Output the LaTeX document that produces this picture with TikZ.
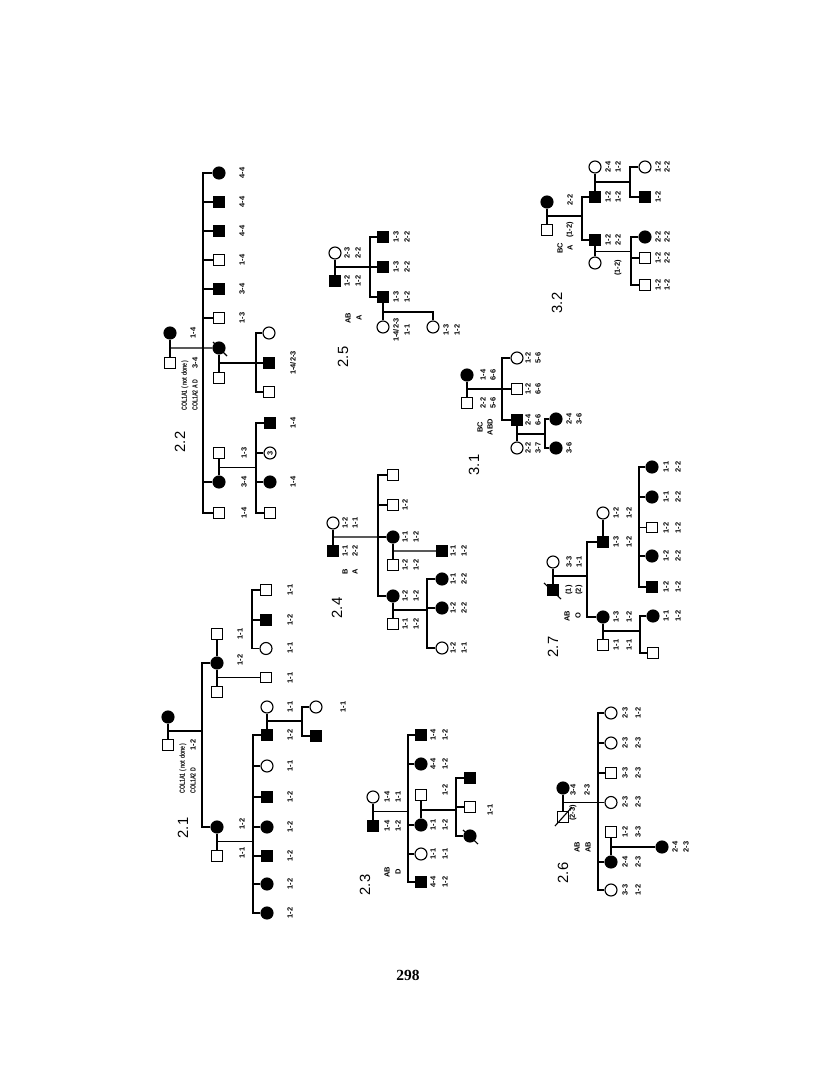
\documentclass[tikz,border=0pt]{standalone}
\usepackage{fontspec}
\setmainfont{Liberation Serif}
\setsansfont{Liberation Sans}
\usepackage{tikz}
\usetikzlibrary{calc}

\begin{document}
\begin{tikzpicture}[x=0.025cm, y=-0.025cm, line width=0.8pt,
    sq/.style={draw, fill=white, minimum size=0.27cm, inner sep=0},
    fsq/.style={sq, fill=black},
    ci/.style={draw, fill=white, circle, minimum size=0.3cm, inner sep=0},
    fci/.style={ci, fill=black},
    lab/.style={rotate=90, font=\fontsize{5.3}{6}\selectfont\sffamily\bfseries, inner sep=0.5pt},
    famno/.style={rotate=90, font=\fontsize{10.5}{12}\selectfont\sffamily}]
  \fill[white] (0,0) rectangle (816,1081);

  % ---- 2.2
  \node[fci] (gm22) at (170,333) {};
  \node[sq] (gf22) at (170,363) {};
  \draw (gm22) -- (gf22);
  \coordinate (c22) at ($(gm22)!0.5!(gf22)$);
  \coordinate (s22) at (203,348);
  \node[fci] (k22a) at (219,173) {};
  \node[fsq] (k22b) at (219,202) {};
  \node[fsq] (k22c) at (219,231) {};
  \node[sq] (k22d) at (219,260) {};
  \node[fsq] (k22e) at (219,289) {};
  \node[sq] (k22f) at (219,318) {};
  \node[fci] (k22g) at (219,348) {};
  \node[fci] (k22h) at (219,482) {};
  \node[sq] (k22i) at (219,513) {};
  \foreach \k in {k22a,k22b,k22c,k22d,k22e,k22f,k22h,k22i} \draw (\k) -| (s22);
  \draw (c22) -- (k22g);
  \node[sq] (h22g) at (219,378) {};
  \draw (k22g) -- (h22g);
  \draw ([shift={(-6,-6)}]k22g.center) -- ([shift={(8,8)}]k22g.center);
  \coordinate (c22g) at ($(k22g)!0.5!(h22g)$);
  \coordinate (s22g) at ($(c22g)+(37,0)$);
  \node[ci] (g22a) at (269,333) {};
  \node[fsq] (g22b) at (269,363) {};
  \node[sq] (g22c) at (269,392) {};
  \foreach \k in {g22a,g22b,g22c} \draw (\k) -| (s22g);
  \draw (c22g) -- (s22g);
  \node[sq] (h22h) at (219,453) {};
  \draw (h22h) -- (k22h);
  \coordinate (c22h) at ($(h22h)!0.5!(k22h)$);
  \coordinate (s22h) at ($(c22h)+(37,0)$);
  \node[fsq] (g22d) at (270,423) {};
  \node[ci, font=\fontsize{5.3}{6}\selectfont\sffamily\bfseries] (g22e) at (270,453) {\rotatebox{90}{3}};
  \node[fci] (g22f) at (270,482) {};
  \node[sq] (g22g) at (270,513) {};
  \foreach \k in {g22d,g22e,g22f,g22g} \draw (\k) -| (s22h);
  \draw (c22h) -- (s22h);
  \foreach \x/\y/\t [count=\i] in {193/333/1-4, 195/363/3-4, 242/173/4-4, 242/202/4-4, 242/231/4-4,
      242/260/1-4, 242/289/3-4, 242/318/1-3, 244/453/1-3, 244/482/3-4, 244/513/1-4,
      293/423/1-4, 293/482/1-4}
    \node[lab] (l22-\i) at (\x,\y) {\t};
  \node[lab] (l22x) at (293,363) {1-4/2-3};
  \node[lab, anchor=west] (col22a) at (185,412) {\scalebox{0.7}[1]{COL1A1 ( not done )}};
  \node[lab, anchor=west] (col22b) at (195,412) {\scalebox{0.7}[1]{COL1A2 A D}};
  \node[famno] (n22) at (180,442) {2.2};

  % ---- 2.5
  \node[ci] (gm25) at (335,253) {};
  \node[fsq] (gf25) at (335,281) {};
  \draw (gm25) -- (gf25);
  \coordinate (c25) at ($(gm25)!0.5!(gf25)$);
  \coordinate (s25) at ($(c25)+(35,0)$);
  \node[fsq] (k25a) at (383,237) {};
  \node[fsq] (k25b) at (383,267) {};
  \node[fsq] (k25c) at (383,297) {};
  \foreach \k in {k25a,k25b,k25c} \draw (\k) -| (s25);
  \draw (c25) -- (s25);
  \node[ci] (h25c) at (383,327) {};
  \draw (k25c) -- (h25c);
  \coordinate (c25c) at ($(k25c)!0.5!(h25c)$);
  \node[ci] (g25a) at (433,327) {};
  \draw (c25c) -| (g25a);
  \foreach \x/\y/\t [count=\i] in {347/253/2-3, 358/253/2-2, 347/281/1-2, 358/281/1-2,
      348/318/AB, 359/318/A, 396/237/1-3, 407/237/2-2, 396/267/1-3, 407/267/2-2,
      396/297/1-3, 407/297/1-2, 407/330/1-1, 446/330/1-3, 457/330/1-2}
    \node[lab] (l25-\i) at (\x,\y) {\t};
  \node[lab] (l25x) at (396,330) {1-4/2-3};
  \node[famno] (n25) at (343,357) {2.5};

  % ---- 3.1
  \node[fci] (gm31) at (467,375) {};
  \node[sq] (gf31) at (467,403) {};
  \draw (gm31) -- (gf31);
  \coordinate (c31) at ($(gm31)!0.5!(gf31)$);
  \coordinate (s31) at ($(c31)+(35,0)$);
  \node[ci] (k31a) at (517,358) {};
  \node[sq] (k31b) at (517,389) {};
  \node[fsq] (k31c) at (517,420) {};
  \foreach \k in {k31a,k31b,k31c} \draw (\k) -| (s31);
  \draw (c31) -- (s31);
  \node[ci] (h31c) at (517,448) {};
  \draw (k31c) -- (h31c);
  \coordinate (c31c) at ($(k31c)!0.5!(h31c)$);
  \coordinate (s31c) at ($(c31c)+(28,0)$);
  \node[fci] (g31a) at (556,419) {};
  \node[fci] (g31b) at (556,448) {};
  \foreach \k in {g31a,g31b} \draw (\k) -| (s31c);
  \draw (c31c) -- (s31c);
  \foreach \x/\y/\t [count=\i] in {483/375/1-4, 493/375/6-6, 483/403/2-2, 493/403/5-6,
      528/358/1-2, 538/358/5-6, 528/389/1-2, 538/389/6-6, 528/420/2-4, 538/420/6-6,
      528/448/2-2, 538/448/3-7, 569/419/2-4, 579/419/3-6, 569/448/3-6, 480/427/BC, 490/427/ABD}
    \node[lab] (l31-\i) at (\x,\y) {\t};
  \node[famno] (n31) at (474,465) {3.1};

  % ---- 3.2
  \node[fci] (gm32) at (547,202) {};
  \node[sq] (gf32) at (547,230) {};
  \draw (gm32) -- (gf32);
  \coordinate (c32) at ($(gm32)!0.5!(gf32)$);
  \coordinate (s32) at ($(c32)+(35,0)$);
  \node[fsq] (k32a) at (595,197) {};
  \node[fsq] (k32b) at (595,240) {};
  \foreach \k in {k32a,k32b} \draw (\k) -| (s32);
  \draw (c32) -- (s32);
  \node[ci] (h32a) at (595,167) {};
  \draw (h32a) -- (k32a);
  \coordinate (c32a) at ($(h32a)!0.5!(k32a)$);
  \coordinate (s32a) at ($(c32a)+(35,0)$);
  \node[ci] (g32a) at (645,167) {};
  \node[fsq] (g32b) at (645,197) {};
  \foreach \k in {g32a,g32b} \draw (\k) -| (s32a);
  \draw (c32a) -- (s32a);
  \node[ci] (h32b) at (595,263) {};
  \draw (k32b) -- (h32b);
  \coordinate (c32b) at ($(k32b)!0.5!(h32b)$);
  \coordinate (s32b) at ($(c32b)+(36,0)$);
  \node[fci] (g32c) at (645,237) {};
  \node[sq] (g32d) at (645,258) {};
  \node[sq] (g32e) at (645,285) {};
  \foreach \k in {g32c,g32d,g32e} \draw (\k) -| (s32b);
  \draw (c32b) -- (s32b);
  \foreach \x/\y/\t [count=\i] in {570/200/2-2, 570/230/(1-2), 608/167/2-4, 618/167/1-2,
      608/197/1-2, 618/197/1-2, 658/167/1-2, 667/167/2-2, 658/197/1-2, 608/240/1-2,
      618/240/2-2, 658/237/2-2, 667/237/2-2, 658/258/1-2, 667/258/2-2, 658/285/1-2,
      667/285/1-2, 618/268/(1-2), 560/248/BC, 570/248/A}
    \node[lab] (l32-\i) at (\x,\y) {\t};
  \node[famno] (n32) at (557,303) {3.2};

  % ---- 2.4
  \node[ci] (gm24) at (333,523) {};
  \node[fsq] (gf24) at (333,551) {};
  \draw (gm24) -- (gf24);
  \coordinate (c24) at ($(gm24)!0.5!(gf24)$);
  \coordinate (s24) at ($(c24)+(45,0)$);
  \node[sq] (k24a) at (393,475) {};
  \node[sq] (k24b) at (393,505) {};
  \node[fci] (k24c) at (393,537) {};
  \node[fci] (k24d) at (393,596) {};
  \foreach \k in {k24a,k24b,k24c,k24d} \draw (\k) -| (s24);
  \draw (c24) -- (k24c);
  \node[sq] (h24c) at (393,565) {};
  \draw (k24c) -- (h24c);
  \coordinate (c24c) at ($(k24c)!0.5!(h24c)$);
  \node[fsq] (g24a) at (442,551) {};
  \draw (c24c) -- (g24a);
  \node[sq] (h24d) at (393,624) {};
  \draw (k24d) -- (h24d);
  \coordinate (c24d) at ($(k24d)!0.5!(h24d)$);
  \coordinate (s24d) at ($(c24d)+(34,0)$);
  \node[fci] (g24b) at (442,579) {};
  \node[fci] (g24c) at (442,608) {};
  \node[ci] (g24d) at (442,648) {};
  \foreach \k in {g24b,g24c,g24d} \draw (\k) -| (s24d);
  \draw (c24d) -- (s24d);
  \foreach \x/\y/\t [count=\i] in {345/523/1-2, 355/523/1-1, 345/551/1-1, 355/551/2-2,
      345/572/B, 355/572/A, 405/505/1-2, 405/537/1-1, 416/537/1-2, 405/565/1-2, 416/565/1-2,
      453/551/1-1, 464/551/1-2, 405/596/1-2, 416/596/1-2, 405/624/1-1, 416/624/1-2,
      453/579/1-1, 464/579/2-2, 453/608/1-2, 464/608/2-2, 453/648/1-2, 464/648/1-1}
    \node[lab] (l24-\i) at (\x,\y) {\t};
  \node[famno] (n24) at (337,608) {2.4};

  % ---- 2.7
  \node[ci] (gm27) at (553,562) {};
  \node[fsq] (gf27) at (553,590) {};
  \draw (gm27) -- (gf27);
  \draw ([shift={(-9,-7)}]gf27.center) -- ([shift={(8,9)}]gf27.center);
  \coordinate (c27) at ($(gm27)!0.5!(gf27)$);
  \coordinate (s27) at ($(c27)+(34,0)$);
  \node[fsq] (k27a) at (603,542) {};
  \node[fci] (k27b) at (603,617) {};
  \foreach \k in {k27a,k27b} \draw (\k) -| (s27);
  \draw (c27) -- (s27);
  \node[ci] (h27a) at (603,513) {};
  \draw (h27a) -- (k27a);
  \coordinate (c27a) at ($(h27a)!0.5!(k27a)$);
  \coordinate (s27a) at ($(c27a)+(36,0)$);
  \node[fci] (g27a) at (652,467) {};
  \node[fci] (g27b) at (652,497) {};
  \node[sq] (g27c) at (652,527.5) {};
  \node[fci] (g27d) at (652,556) {};
  \node[fsq] (g27e) at (652,587) {};
  \foreach \k in {g27a,g27b,g27c,g27d,g27e} \draw (\k) -| (s27a);
  \node[sq] (h27b) at (603,645) {};
  \draw (k27b) -- (h27b);
  \coordinate (c27b) at ($(k27b)!0.5!(h27b)$);
  \coordinate (s27b) at ($(c27b)+(37,0)$);
  \node[fci] (g27f) at (653,616) {};
  \node[sq] (g27g) at (653,653) {};
  \foreach \k in {g27f,g27g} \draw (\k) -| (s27b);
  \draw (c27b) -- (s27b);
  \foreach \x/\y/\t [count=\i] in {569/562/3-3, 579/562/1-1, 569/590/(1), 579/590/(2),
      567/616/AB, 578/616/O, 616/513/1-2, 629/513/1-2, 616/542/1-3, 629/542/1-2,
      616/617/1-3, 629/617/1-2, 616/645/1-1, 629/645/1-1, 666/467/1-1, 678/467/2-2,
      666/497/1-1, 678/497/2-2, 666/528/1-2, 678/528/1-2, 666/556/1-2, 678/556/2-2,
      666/587/1-2, 678/587/1-2, 666/616/1-1, 678/616/1-2}
    \node[lab] (l27-\i) at (\x,\y) {\t};
  \node[famno] (n27) at (553,647) {2.7};

  % ---- 2.1
  \node[fci] (gm21) at (168,717) {};
  \node[sq] (gf21) at (168,745) {};
  \draw (gm21) -- (gf21);
  \coordinate (c21) at ($(gm21)!0.5!(gf21)$);
  \coordinate (s21) at ($(c21)+(34,0)$);
  \node[fci] (k21a) at (217,663) {};
  \node[fci] (k21b) at (217,827) {};
  \foreach \k in {k21a,k21b} \draw (\k) -| (s21);
  \draw (c21) -- (s21);
  \node[sq] (h21a) at (217,634) {};
  \node[sq] (h21b) at (217,692) {};
  \draw (h21a) -- (k21a) -- (h21b);
  \coordinate (c21a) at ($(h21a)!0.5!(k21a)$);
  \coordinate (s21a) at ($(c21a)+(35,0)$);
  \node[sq] (g21a) at (266,590) {};
  \node[fsq] (g21b) at (266,620) {};
  \node[ci] (g21c) at (266,648.5) {};
  \foreach \k in {g21a,g21b,g21c} \draw (\k) -| (s21a);
  \coordinate (c21b) at ($(k21a)!0.5!(h21b)$);
  \node[sq] (g21d) at (266,677.5) {};
  \draw (c21b) -- (g21d);
  \node[sq] (h21c) at (217,856) {};
  \draw (k21b) -- (h21c);
  \coordinate (c21c) at ($(k21b)!0.5!(h21c)$);
  \coordinate (s21c) at ($(c21c)+(36,0)$);
  \node[fsq] (g21e) at (267,735) {};
  \node[ci] (g21f) at (267,766) {};
  \node[fsq] (g21g) at (267,797) {};
  \node[fci] (g21h) at (267,827) {};
  \node[fsq] (g21i) at (267,856) {};
  \node[fci] (g21j) at (267,884) {};
  \node[fci] (g21k) at (267,913) {};
  \foreach \k in {g21e,g21f,g21g,g21h,g21i,g21j,g21k} \draw (\k) -| (s21c);
  \draw (c21c) -- (s21c);
  \node[ci] (h21e) at (267,707) {};
  \draw (h21e) -- (g21e);
  \coordinate (c21e) at ($(h21e)!0.5!(g21e)$);
  \coordinate (s21e) at ($(c21e)+(35,0)$);
  \node[ci] (g21l) at (316,707) {};
  \node[fsq] (g21m) at (316,736) {};
  \foreach \k in {g21l,g21m} \draw (\k) -| (s21e);
  \draw (c21e) -- (s21e);
  \foreach \x/\y/\t [count=\i] in {193/745/1-2, 240/634/1-1, 240/660/1-2, 290/590/1-1,
      290/620/1-2, 290/648/1-1, 290/678/1-1, 290/707/1-1, 343/707/1-1, 290/735/1-2,
      290/766/1-1, 290/797/1-2, 290/827/1-2, 290/856/1-2, 290/884/1-2, 290/913/1-2,
      242/824/1-2, 242/853/1-1}
    \node[lab] (l21-\i) at (\x,\y) {\t};
  \node[lab, anchor=west] (col21a) at (183,795) {\scalebox{0.7}[1]{COL1A1 ( not done )}};
  \node[lab, anchor=west] (col21b) at (193,795) {\scalebox{0.7}[1]{COL1A2 D}};
  \node[famno] (n21) at (183,828) {2.1};

  % ---- 2.3
  \node[ci] (gm23) at (373,797) {};
  \node[fsq] (gf23) at (373,826) {};
  \draw (gm23) -- (gf23);
  \coordinate (c23) at ($(gm23)!0.5!(gf23)$);
  \coordinate (s23) at ($(c23)+(35,0)$);
  \node[fsq] (k23a) at (421,735) {};
  \node[fci] (k23b) at (421,764) {};
  \node[fci] (k23c) at (421,825) {};
  \node[ci] (k23d) at (421,854) {};
  \node[fsq] (k23e) at (421,882) {};
  \foreach \k in {k23a,k23b,k23c,k23d,k23e} \draw (\k) -| (s23);
  \draw (c23) -- (s23);
  \node[sq] (h23c) at (421,795) {};
  \draw (h23c) -- (k23c);
  \coordinate (c23c) at ($(h23c)!0.5!(k23c)$);
  \coordinate (s23c) at ($(c23c)+(35,0)$);
  \node[fsq] (g23a) at (470,778) {};
  \node[sq] (g23b) at (470,807) {};
  \node[fci] (g23c) at (470,836) {};
  \foreach \k in {g23a,g23b,g23c} \draw (\k) -| (s23c);
  \draw (c23c) -- (s23c);
  \draw ([shift={(-7,-6)}]g23c.center) -- ([shift={(8,8)}]g23c.center);
  \foreach \x/\y/\t [count=\i] in {387/797/1-4, 398/797/1-1, 387/826/1-4, 398/826/1-2,
      387/872/AB, 398/872/D, 433/735/1-4, 445/735/1-2, 433/764/4-4, 445/764/1-2,
      445/790/1-2, 433/825/1-1, 445/825/1-2, 433/854/1-1, 445/854/1-1, 433/882/4-4,
      445/882/1-2, 490/810/1-1}
    \node[lab] (l23-\i) at (\x,\y) {\t};
  \node[famno] (n23) at (365,885) {2.3};

  % ---- 2.6
  \node[fci] (gm26) at (563,788) {};
  \node[sq] (gf26) at (563,817) {};
  \draw (gm26) -- (gf26);
  \draw ([shift={(-8,9)}]gf26.center) -- ([shift={(9,-10)}]gf26.center);
  \coordinate (c26) at ($(gm26)!0.5!(gf26)$);
  \coordinate (s26) at ($(c26)+(35,0)$);
  \node[ci] (k26a) at (611,713) {};
  \node[ci] (k26b) at (611,743) {};
  \node[sq] (k26c) at (611,773) {};
  \node[ci] (k26d) at (611,802.5) {};
  \node[fci] (k26e) at (611,862) {};
  \node[ci] (k26f) at (611,890) {};
  \foreach \k in {k26a,k26b,k26c,k26d,k26e,k26f} \draw (\k) -| (s26);
  \draw (c26) -- (s26);
  \node[sq] (h26e) at (611,832) {};
  \draw (h26e) -- (k26e);
  \coordinate (c26e) at ($(h26e)!0.5!(k26e)$);
  \node[fci] (g26a) at (662,847) {};
  \draw (c26e) -- (g26a);
  \foreach \x/\y/\t [count=\i] in {573/790/3-4, 587/790/2-3, 573/813/(2-3), 577/847/AB,
      588/847/AB, 625/713/2-3, 638/713/1-2, 625/743/2-3, 638/743/2-3, 625/773/3-3,
      638/773/2-3, 625/802/2-3, 638/802/2-3, 625/832/1-2, 638/832/3-3, 625/862/2-4,
      638/862/2-3, 625/890/3-3, 638/890/1-2, 675/847/2-4, 686/847/2-3}
    \node[lab] (l26-\i) at (\x,\y) {\t};
  \node[famno] (n26) at (563,873) {2.6};

  % page number
  \node[font=\fontsize{11}{13}\selectfont\bfseries] (page) at (408,975) {298};
\end{tikzpicture}
\end{document}
